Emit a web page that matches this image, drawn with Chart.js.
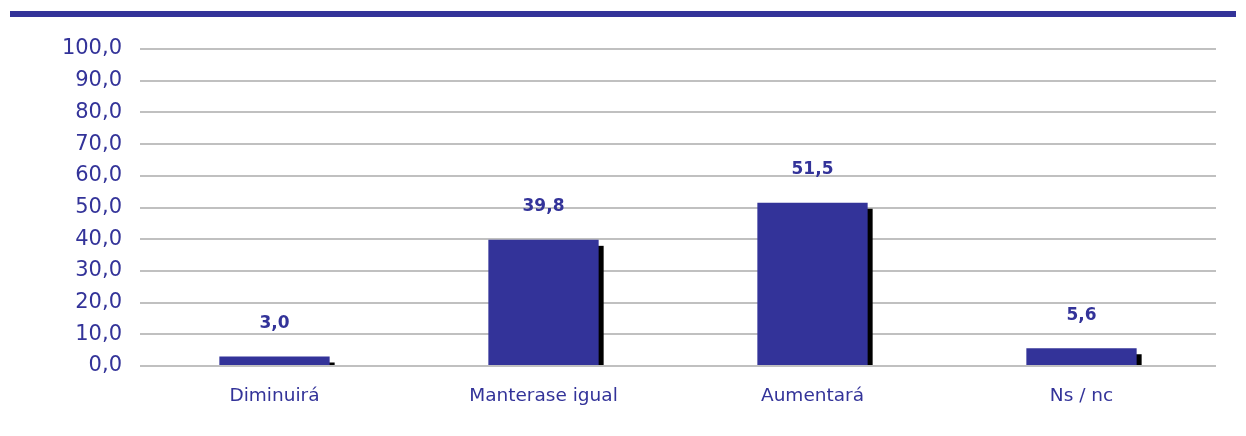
<!DOCTYPE html>
<html>
<head>
<meta charset="utf-8">
<script src="https://cdn.jsdelivr.net/npm/chart.js@4/dist/chart.umd.min.js"></script>
<style>
  html, body { margin: 0; padding: 0; background: #ffffff; }
  #wrap { position: relative; width: 1246px; height: 436px; }
  #topbar { position: absolute; left: 10px; top: 11px; width: 1226px; height: 6px; background: #333399; }
  canvas { position: absolute; left: 0; top: 0; }
</style>
</head>
<body>
<div id="wrap">
  <canvas id="c" width="1246" height="436"></canvas>
  <div id="topbar"></div>
</div>
<script>
const categories = ["Diminuirá", "Manterase igual", "Aumentará", "Ns / nc"];
const values = [3.0, 39.8, 51.5, 5.6];
const yTickValues = [0, 10, 20, 30, 40, 50, 60, 70, 80, 90, 100];

const BLUE = "#333399";
const fmt = v => v.toFixed(1).replace('.', ',');

const shadowPlugin = {
  id: 'shadow',
  beforeDatasetsDraw(chart) {
    const ctx = chart.ctx;
    const meta = chart.getDatasetMeta(0);
    ctx.save();
    ctx.fillStyle = "#000000";
    meta.data.forEach(bar => {
      const p = bar.getProps(['x', 'y', 'base', 'width'], true);
      const left = p.x - p.width / 2 + 5;
      const top = p.y + 6;
      if (p.base > top) ctx.fillRect(left, top, p.width, p.base - top);
    });
    ctx.restore();
  }
};

const labelPlugin = {
  id: 'valueLabels',
  afterDatasetsDraw(chart) {
    const ctx = chart.ctx;
    const meta = chart.getDatasetMeta(0);
    ctx.save();
    ctx.fillStyle = BLUE;
    ctx.font = "bold 17px 'DejaVu Sans', Verdana, sans-serif";
    ctx.textAlign = "center";
    ctx.textBaseline = "middle";
    meta.data.forEach((bar, i) => {
      const p = bar.getProps(['x', 'y'], true);
      ctx.fillText(fmt(values[i]), p.x, p.y - 33);
    });
    ctx.restore();
  }
};

new Chart(document.getElementById('c'), {
  type: 'bar',
  data: {
    labels: categories,
    datasets: [{
      data: values,
      backgroundColor: BLUE,
      borderWidth: 0,
      categoryPercentage: 1.0,
      barPercentage: 0.41
    }]
  },
  options: {
    responsive: false,
    animation: false,
    devicePixelRatio: 1,
    layout: { padding: { top: 49, right: 30, left: 0, bottom: 0 } },
    plugins: { legend: { display: false }, tooltip: { enabled: false } },
    scales: {
      x: {
        grid: { display: false, drawTicks: false },
        border: { display: false },
        ticks: {
          color: BLUE,
          font: { family: "'DejaVu Sans', Verdana, sans-serif", size: 18.5 },
          padding: 19,
          maxRotation: 0
        },
        afterFit(scale) { scale.height = 70; }
      },
      y: {
        min: 0,
        max: 100,
        afterBuildTicks(scale) { scale.ticks = yTickValues.map(v => ({ value: v })); },
        grid: { color: "#c0c0c0", lineWidth: 2, drawTicks: false },
        border: { display: false },
        ticks: {
          color: BLUE,
          font: { family: "'DejaVu Sans', Verdana, sans-serif", size: 21 },
          padding: 18,
          callback: v => fmt(v)
        },
        afterFit(scale) { scale.width = 140; }
      }
    }
  },
  plugins: [shadowPlugin, labelPlugin]
});
</script>
</body>
</html>
